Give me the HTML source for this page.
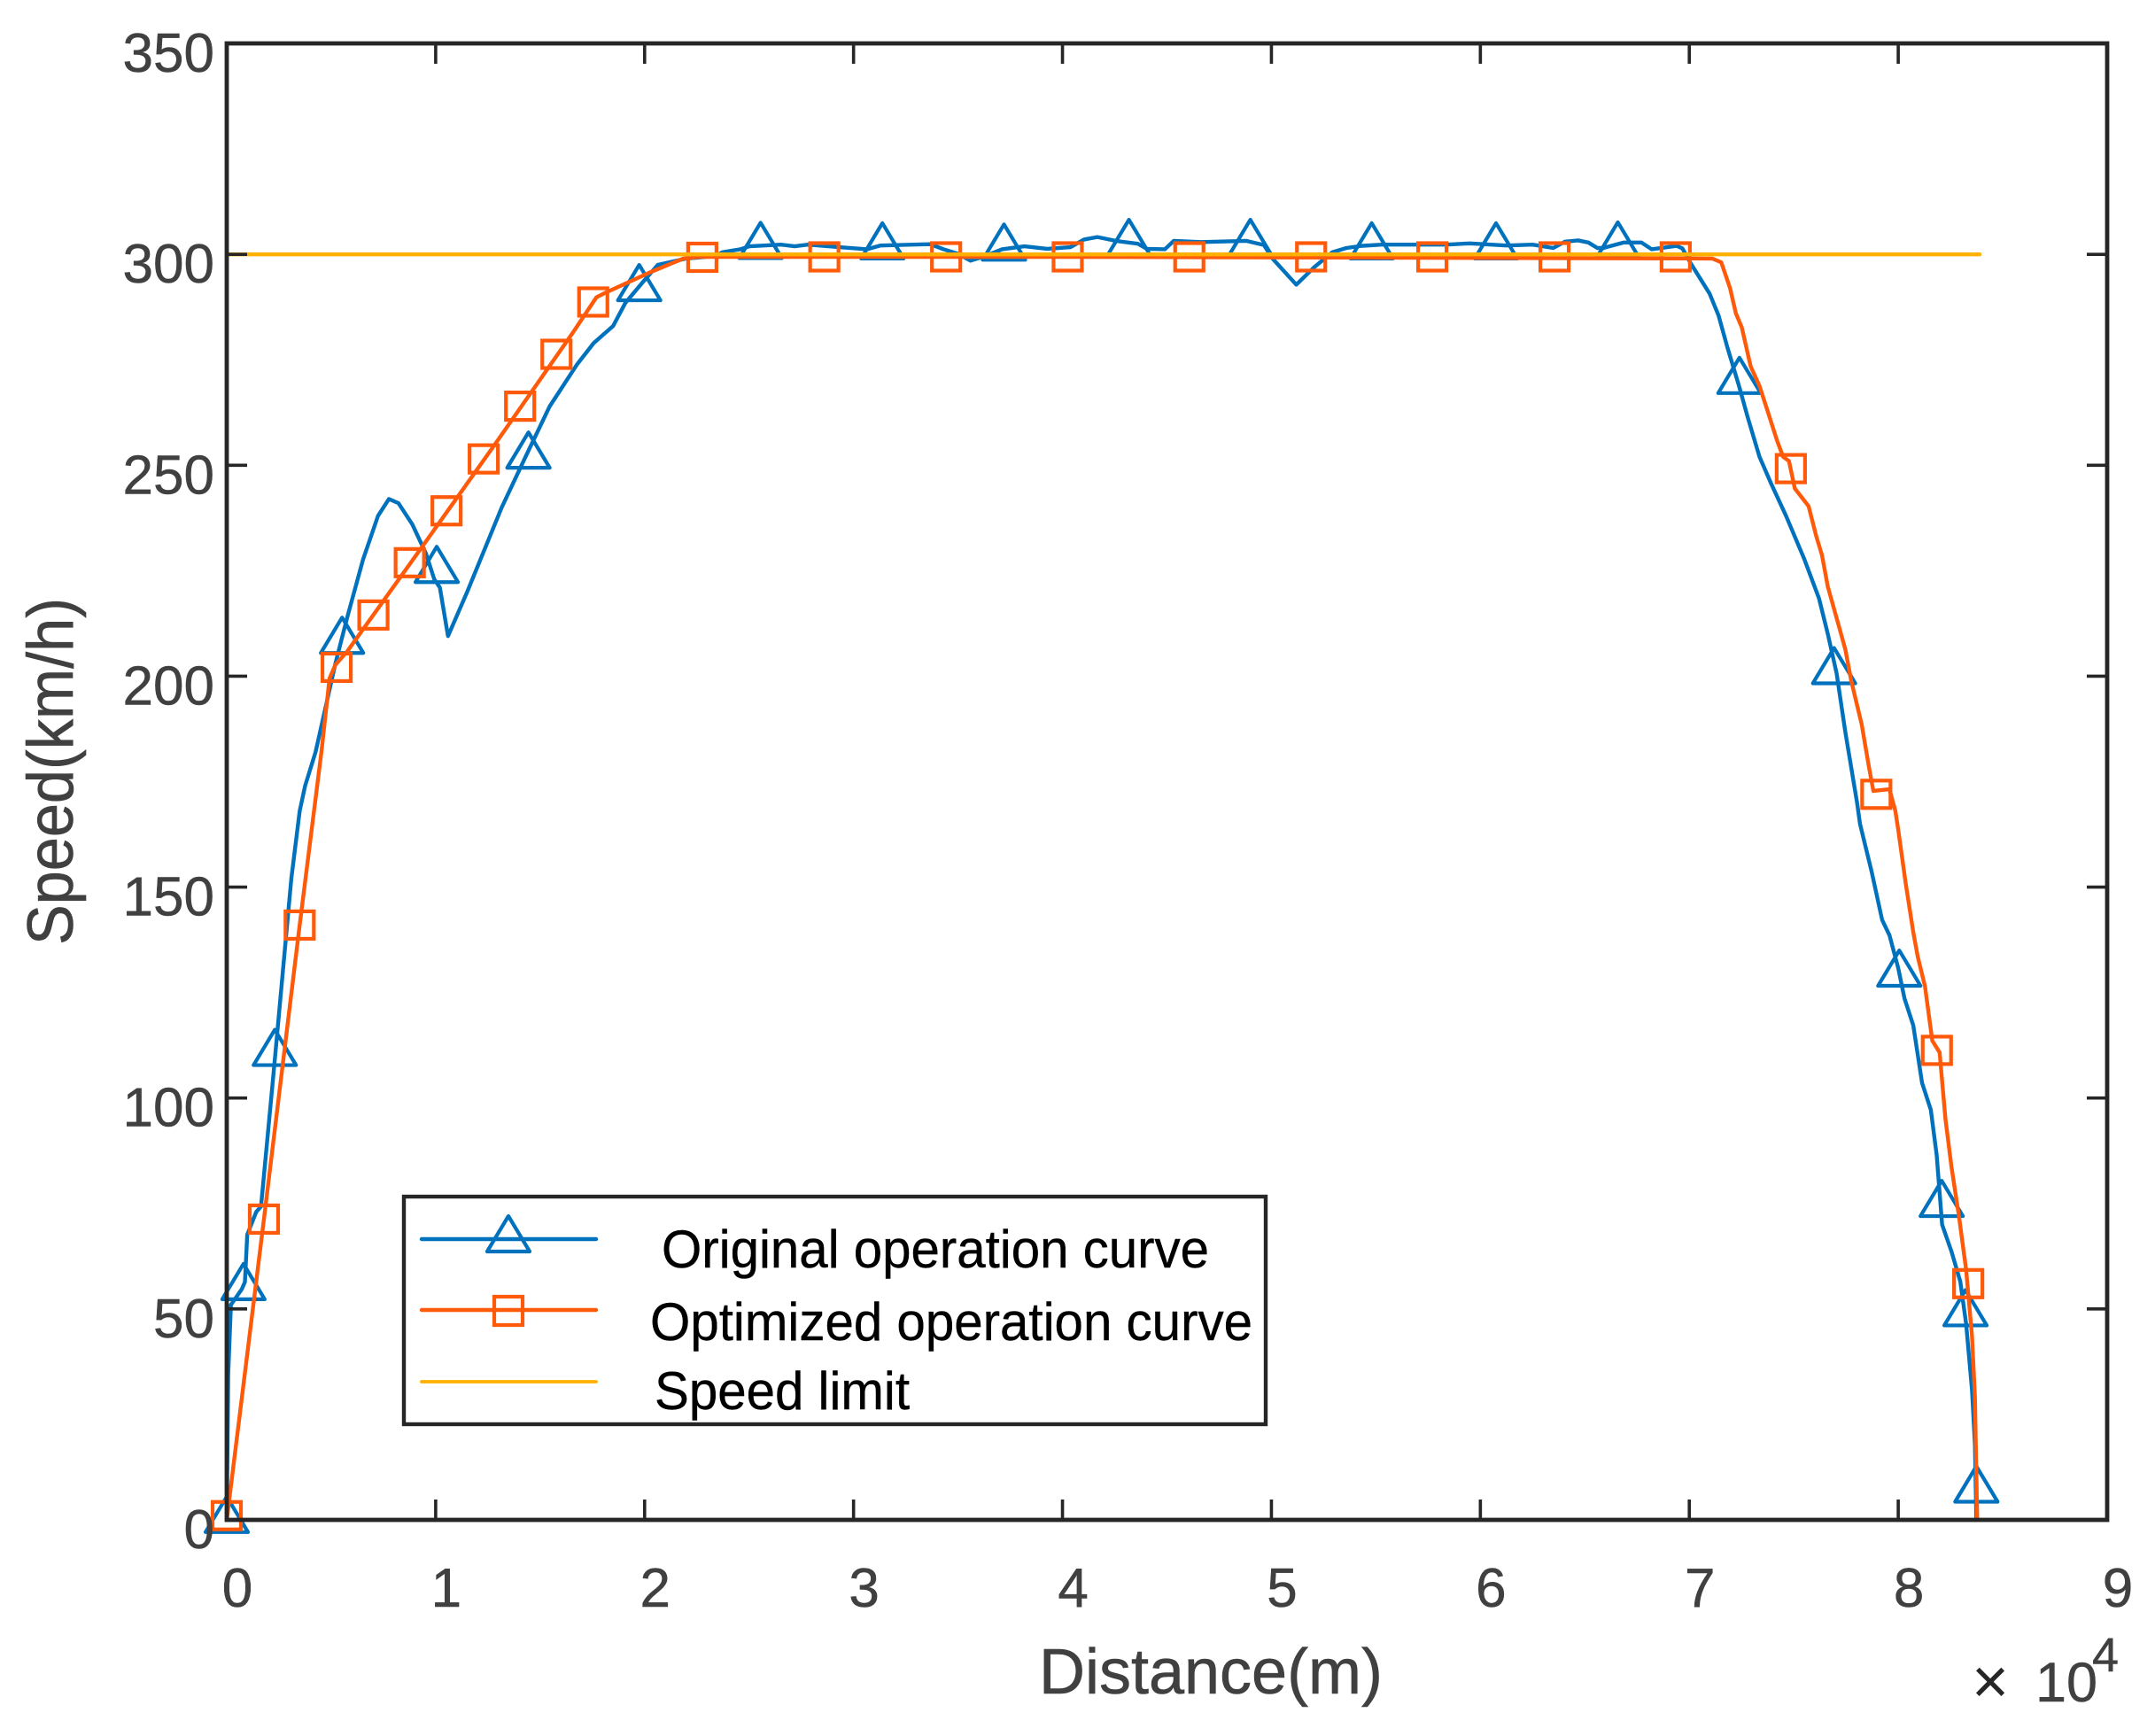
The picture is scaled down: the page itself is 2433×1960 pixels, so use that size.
<!DOCTYPE html>
<html lang="en">
<head>
<meta charset="utf-8">
<title>Speed vs distance operation curves</title>
<style>
  html, body { margin: 0; padding: 0; background: #fff; }
  svg { display: block; }
  text { font-family: "Liberation Sans", Arial, sans-serif; }
</style>
</head>
<body>
<svg id="chart" xmlns="http://www.w3.org/2000/svg" width="2433" height="1960" viewBox="0 0 2433 1960">
  <rect x="0" y="0" width="2433" height="1960" fill="#ffffff"/>
  <g id="series-layer"></g>
  <rect x="256" y="49" width="2123" height="1667" fill="none" stroke="#262626" stroke-width="4.8"/>
  <g id="tick-layer"></g>
  <text transform="translate(82 871) rotate(-90)" text-anchor="middle" font-size="73" fill="#404040" stroke="#404040" stroke-width="0.6" textLength="392" lengthAdjust="spacingAndGlyphs">Speed(km/h)</text>
  <text x="1367" y="1912" text-anchor="middle" font-size="72" fill="#404040" stroke="#404040" stroke-width="0.6" textLength="388" lengthAdjust="spacingAndGlyphs">Distance(m)</text>
  <text x="2226" y="1923" font-size="72" fill="#262626">×</text>
  <text x="2298" y="1921" font-size="63" fill="#404040" stroke="#404040" stroke-width="0.5">10</text>
  <text x="2362" y="1887" font-size="54" fill="#404040" stroke="#404040" stroke-width="0.5">4</text>

  <g>
    <rect x="456" y="1351" width="973" height="257" fill="#ffffff" stroke="#262626" stroke-width="4.4"/>
    <g>
      <line x1="476" y1="1399" x2="673" y2="1399" stroke="#0072BD" stroke-width="4.4" stroke-linecap="round"/>
      <polygon points="574,1373 598,1413 550,1413" fill="none" stroke="#0072BD" stroke-width="4.2" stroke-linejoin="round"/>
      <text x="747" y="1431" font-size="60" fill="#000000" stroke="#000000" stroke-width="0.4" textLength="618" lengthAdjust="spacingAndGlyphs">Original operation curve</text>
    </g>
    <g>
      <line x1="476" y1="1479" x2="673" y2="1479" stroke="#FF5A0A" stroke-width="4.4" stroke-linecap="round"/>
      <rect x="558" y="1464" width="32" height="32" fill="none" stroke="#FF5A0A" stroke-width="4.2"/>
      <text x="734" y="1513" font-size="60" fill="#000000" stroke="#000000" stroke-width="0.4" textLength="680" lengthAdjust="spacingAndGlyphs">Optimized operation curve</text>
    </g>
    <g>
      <line x1="476" y1="1560" x2="673" y2="1560" stroke="#FFB000" stroke-width="3.8" stroke-linecap="round"/>
      <text x="739" y="1591" font-size="60" fill="#000000" stroke="#000000" stroke-width="0.4" textLength="288" lengthAdjust="spacingAndGlyphs">Speed limit</text>
    </g>
  </g>
</svg>

<script>
const xTickValues = [0, 1, 2, 3, 4, 5, 6, 7, 8, 9];
const yTickValues = [0, 50, 100, 150, 200, 250, 300, 350];

const originalDistance = [0, 0.007, 0.02, 0.072, 0.087, 0.098, 0.141, 0.164, 0.228, 0.263, 0.309, 0.349, 0.375, 0.425, 0.52, 0.577, 0.652, 0.724, 0.776, 0.822, 0.888, 0.954, 0.993, 1.02, 1.059, 1.151, 1.217, 1.316, 1.43, 1.546, 1.678, 1.757, 1.849, 1.908, 1.993, 2.063, 2.2, 2.34, 2.372, 2.458, 2.502, 2.652, 2.718, 2.781, 2.932, 3.065, 3.13, 3.366, 3.431, 3.496, 3.56, 3.625, 3.711, 3.818, 3.926, 4.038, 4.103, 4.167, 4.254, 4.361, 4.404, 4.49, 4.533, 4.663, 4.878, 4.964, 5.007, 5.119, 5.206, 5.292, 5.359, 5.43, 5.528, 5.682, 5.837, 5.95, 6.124, 6.25, 6.349, 6.405, 6.468, 6.517, 6.56, 6.588, 6.687, 6.771, 6.82, 6.94, 6.967, 7.01, 7.097, 7.14, 7.182, 7.238, 7.28, 7.336, 7.393, 7.463, 7.55, 7.621, 7.663, 7.705, 7.747, 7.803, 7.817, 7.873, 7.923, 7.958, 8.0, 8.03, 8.072, 8.114, 8.156, 8.184, 8.21, 8.255, 8.297, 8.325, 8.353, 8.367, 8.374];
const originalSpeed = [0, 34.5, 51, 54.7, 56.4, 67.6, 73, 74.3, 108, 127, 152, 168, 174, 182, 203, 214, 227.6, 238, 242, 241, 236, 229, 223, 221, 209.5, 220, 228, 240, 252, 264, 274, 279, 283, 288.5, 293.5, 297.5, 299, 299.6, 300.5, 301.2, 301.9, 302.3, 301.9, 302.3, 301.7, 301.2, 302.1, 302.4, 301.2, 300.2, 298.5, 299.5, 301.2, 301.9, 301.3, 301.7, 303.5, 304.1, 303.2, 302.5, 301.3, 301.2, 303.2, 302.9, 303.2, 302.2, 298.9, 292.8, 297, 300.5, 301.5, 302, 302.3, 302.3, 302.3, 302.6, 302.1, 302.3, 301.5, 303, 303.3, 302.8, 301.5, 301.5, 302.8, 302.8, 301.2, 302, 301.4, 297.6, 290.7, 285.5, 278, 268.8, 261.3, 252, 245.5, 238, 227.8, 218.4, 210, 200.7, 186.7, 170, 165, 153.6, 142.2, 138.6, 130.8, 123.6, 117.2, 103.6, 97.2, 86.5, 70, 63.6, 56.5, 46.5, 30.8, 18, 0];

const optimizedDistance = [0, 0.178, 0.349, 0.453, 0.492, 0.52, 0.577, 0.937, 1.277, 1.656, 1.769, 1.817, 2.034, 2.185, 2.262, 4, 7.11, 7.153, 7.195, 7.223, 7.251, 7.294, 7.336, 7.379, 7.421, 7.449, 7.477, 7.505, 7.571, 7.607, 7.635, 7.663, 7.705, 7.747, 7.775, 7.825, 7.86, 7.881, 7.958, 7.986, 8.0, 8.036, 8.072, 8.093, 8.128, 8.163, 8.198, 8.226, 8.255, 8.29, 8.325, 8.353, 8.367, 8.378];
const optimizedSpeed = [0, 71.3, 141, 182, 199.5, 202.7, 205.9, 230.8, 254.5, 281.4, 289.8, 291, 295.9, 299, 299.4, 299.4, 299, 298.1, 292, 286, 282.7, 273.4, 268.8, 262.2, 255.7, 252, 251, 244.5, 240.3, 233.3, 228.7, 221.2, 213.8, 206.3, 198.9, 188.6, 178.4, 172.8, 173.2, 168.1, 163.6, 150.8, 139.3, 133.6, 126.5, 113.6, 110.8, 95, 83.6, 72.2, 59.3, 43.6, 29.3, 0];

const originalMarkerDistance = [0, 0.08, 0.23, 0.552, 1.005, 1.444, 1.974, 2.555, 3.138, 3.72, 4.318, 4.899, 5.48, 6.075, 6.658, 7.24, 7.693, 8.005, 8.208, 8.322, 8.374];
const originalMarkerSpeed = [1.3, 56.5, 112, 209.7, 226.5, 253.6, 293.3, 303.3, 303.2, 302.9, 304, 304, 303.2, 303.2, 303.4, 271.3, 202.5, 130.8, 76.2, 50.3, 8.5];

const optimizedMarkerDistance = [0, 0.178, 0.349, 0.526, 0.702, 0.876, 1.052, 1.23, 1.404, 1.578, 1.754, 2.276, 2.86, 3.443, 4.025, 4.607, 5.19, 5.77, 6.355, 6.935, 7.486, 7.895, 8.185, 8.335];
const optimizedMarkerSpeed = [1, 71.3, 141, 202.1, 214.5, 226.9, 239.2, 251.5, 264, 276.3, 288.7, 299.3, 299.4, 299.4, 299.4, 299.4, 299.4, 299.4, 299.4, 299.4, 249.2, 172, 111.3, 56];

const limitDistance = [0, 8.39];
const limitSpeed = [300, 300];

const NS = 'http://www.w3.org/2000/svg';
const plotLeft = 256, plotRight = 2379, plotTop = 49, plotBottom = 1716;
const xMax = 9, yMax = 350;
const BLUE = '#0072BD', ORANGE = '#FF5A0A', YELLOW = '#FFB000';

function sx(v) { return plotLeft + (v / xMax) * (plotRight - plotLeft); }
function sy(v) { return plotBottom - (v / yMax) * (plotBottom - plotTop); }

function pathFor(xs, ys) {
  return xs.map(function (x, i) {
    return (i ? 'L' : 'M') + sx(x).toFixed(2) + ' ' + sy(ys[i]).toFixed(2);
  }).join(' ');
}

const seriesLayer = document.getElementById('series-layer');
const tickLayer = document.getElementById('tick-layer');

function drawLine(name, xs, ys, color, width) {
  const el = document.createElementNS(NS, 'path');
  
  
  el.setAttribute('d', pathFor(xs, ys));
  el.setAttribute('fill', 'none');
  el.setAttribute('stroke', color);
  el.setAttribute('stroke-width', width);
  el.setAttribute('stroke-linejoin', 'round');
  el.setAttribute('stroke-linecap', 'round');
  seriesLayer.appendChild(el);
}

function drawTriangles(xs, ys) {
  xs.forEach(function (x, i) {
    const cx = sx(x), cy = sy(ys[i]);
    const el = document.createElementNS(NS, 'polygon');
    
    
    el.setAttribute('points', cx + ',' + (cy - 20) + ' ' + (cx + 24) + ',' + (cy + 20) + ' ' + (cx - 24) + ',' + (cy + 20));
    el.setAttribute('fill', 'none');
    el.setAttribute('stroke', BLUE);
    el.setAttribute('stroke-width', '4.2');
    el.setAttribute('stroke-linejoin', 'round');
    seriesLayer.appendChild(el);
  });
}

function drawSquares(xs, ys) {
  xs.forEach(function (x, i) {
    const el = document.createElementNS(NS, 'rect');
    
    
    el.setAttribute('x', sx(x) - 16);
    el.setAttribute('y', sy(ys[i]) - 15.5);
    el.setAttribute('width', 32);
    el.setAttribute('height', 31);
    el.setAttribute('fill', 'none');
    el.setAttribute('stroke', ORANGE);
    el.setAttribute('stroke-width', '4.2');
    seriesLayer.appendChild(el);
  });
}

function drawTick(name, x1, y1, x2, y2) {
  const el = document.createElementNS(NS, 'line');
  
  
  el.setAttribute('x1', x1);
  el.setAttribute('y1', y1);
  el.setAttribute('x2', x2);
  el.setAttribute('y2', y2);
  el.setAttribute('stroke', '#262626');
  el.setAttribute('stroke-width', '3.6');
  tickLayer.appendChild(el);
}

function drawTickLabel(name, x, y, anchor, value) {
  const el = document.createElementNS(NS, 'text');
  
  
  el.setAttribute('x', x);
  el.setAttribute('y', y);
  el.setAttribute('text-anchor', anchor);
  el.setAttribute('font-size', '62');
  el.setAttribute('fill', '#404040');
  el.setAttribute('stroke', '#404040');
  el.setAttribute('stroke-width', '0.5');
  el.textContent = String(value);
  tickLayer.appendChild(el);
}

drawLine('original-operation-curve', originalDistance, originalSpeed, BLUE, 4.4);
drawTriangles(originalMarkerDistance, originalMarkerSpeed);
drawLine('optimized-operation-curve', optimizedDistance, optimizedSpeed, ORANGE, 4.4);
drawSquares(optimizedMarkerDistance, optimizedMarkerSpeed);
drawLine('speed-limit-line', limitDistance, limitSpeed, YELLOW, 4.4);

xTickValues.forEach(function (v) {
  const x = sx(v);
  if (v > 0 && v < xMax) {
    drawTick('x-tick-bottom', x, plotBottom, x, plotBottom - 23);
    drawTick('x-tick-top', x, plotTop, x, plotTop + 23);
  }
  drawTickLabel('x-tick-label', x + 12, 1814, 'middle', v);
});

yTickValues.forEach(function (v) {
  const y = sy(v);
  if (v > 0 && v < yMax) {
    drawTick('y-tick-left', plotLeft, y, plotLeft + 23, y);
    drawTick('y-tick-right', plotRight, y, plotRight - 23, y);
  }
  drawTickLabel('y-tick-label', 242, y + 32, 'end', v);
});
</script>
</body>
</html>
